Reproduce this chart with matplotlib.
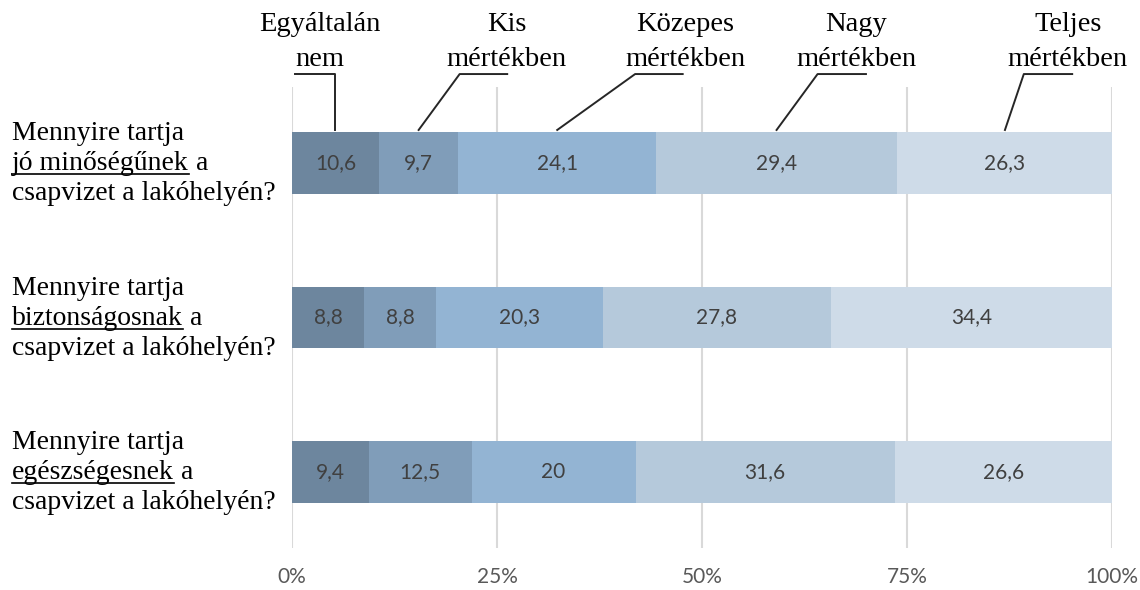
import matplotlib.pyplot as plt
from matplotlib import transforms
from matplotlib.lines import Line2D

# Answer shares (%) per question, stacked left to right
categories = ['Egyáltalán\nnem', 'Kis\nmértékben', 'Közepes\nmértékben',
              'Nagy\nmértékben', 'Teljes\nmértékben']
questions = [('jó minőségűnek', ' a'),
             ('biztonságosnak', ' a'),
             ('egészségesnek', ' a')]
values = [
    [10.6, 9.7, 24.1, 29.4, 26.3],
    [8.8, 8.8, 20.3, 27.8, 34.4],
    [9.4, 12.5, 20, 31.6, 26.6],
]
xticks = [0, 25, 50, 75, 100]
xticklabels = ['0%', '25%', '50%', '75%', '100%']

colors = ['#6d869e', '#809db9', '#93b4d3', '#b5c9db', '#cedbe8']
serif = 'Liberation Serif'
sans = 'Lato'

fig = plt.figure(figsize=(11.4, 5.9), dpi=100)
ax = fig.add_axes([0.2561, 0.0712, 0.7193, 0.7813])

ypos = list(range(len(values)))
lefts = [0.0] * len(values)
for j, col in enumerate(colors):
    seg = [row[j] for row in values]
    ax.barh(ypos, seg, left=lefts, height=0.4, color=col, zorder=2)
    for i, v in enumerate(seg):
        txt = ('%g' % v).replace('.', ',')
        ax.text(lefts[i] + v / 2, i, txt, ha='center', va='center',
                fontsize=15, family=sans, color='#404040', zorder=3)
    lefts = [a + b for a, b in zip(lefts, seg)]

ax.set_xlim(0, 100)
ax.set_ylim(len(values) - 0.508, -0.492)
ax.set_xticks(xticks)
ax.set_xticklabels(xticklabels, family=sans, fontsize=15, color='#595959')
ax.tick_params(axis='x', length=0, pad=14)
ax.set_yticks([])
for s in ax.spines.values():
    s.set_visible(False)
ax.grid(axis='x', color='#d9d9d9', lw=1.5, zorder=0)

# series names above the first bar, joined to it with leader lines
mids = []
acc = 0.0
for v in values[0]:
    mids.append(acc + v / 2)
    acc += v
knee_dx = [0, 5, 9.5, 5, 2.3]
shelf = [-4.9, 5.8, 5.8, 5.9, 5.9]
label_x = [3.4, 26.2, 48.0, 68.8, 94.6]
y_end, y_knee, y_text = -0.214, -0.576, -0.785
for k, name in enumerate(categories):
    xk = mids[k] + knee_dx[k]
    ax.plot([mids[k], xk, xk + shelf[k]], [y_end, y_knee, y_knee],
            color='#262626', lw=1.4, clip_on=False, zorder=4)
    ax.text(label_x[k], y_text, name, ha='center', va='center',
            family=serif, fontsize=20.5, linespacing=1.5, color='black')

# question texts on the left, with the key word underlined
blend = transforms.blended_transform_factory(fig.transFigure, ax.transData)
x0 = 12 / 1140
dy = 30 / 154.5
base = 7 / 154.5
qsize = 20
word_texts = []
for i, (word, rest) in enumerate(questions):
    ax.text(x0, i - dy + base, 'Mennyire tartja', transform=blend,
            family=serif, fontsize=qsize, va='baseline', ha='left')
    ax.text(x0, i + dy + base, 'csapvizet a lakóhelyén?', transform=blend,
            family=serif, fontsize=qsize, va='baseline', ha='left')
    t = ax.text(x0, i + base, word, transform=blend,
                family=serif, fontsize=qsize, va='baseline', ha='left')
    word_texts.append((t, rest, i + base))

fig.canvas.draw()
renderer = fig.canvas.get_renderer()
inv = fig.transFigure.inverted()
for t, rest, yb in word_texts:
    bb = t.get_window_extent(renderer)
    ybase = ax.transData.transform((0, yb))[1]
    (fx0, fy), (fx1, _) = inv.transform([(bb.x0, ybase - 4), (bb.x1, ybase - 4)])
    fig.add_artist(Line2D([fx0, fx1], [fy, fy], color='black', lw=1.2))
    fig.text(fx1, inv.transform((0, ybase))[1], rest, family=serif,
             fontsize=qsize, va='baseline', ha='left')

fig.savefig('out.png', dpi=100)
